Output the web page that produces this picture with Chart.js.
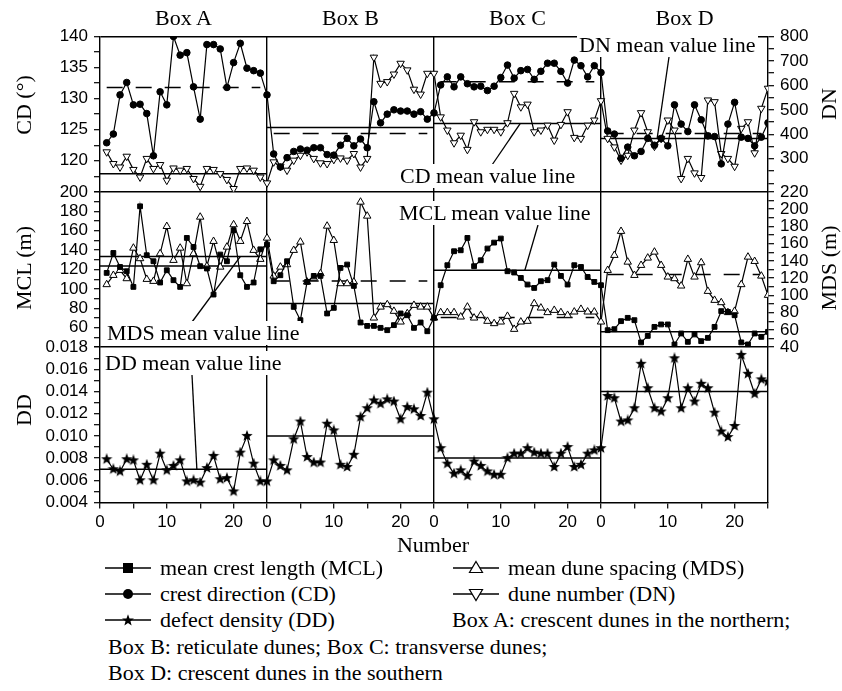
<!DOCTYPE html>
<html>
<head>
<meta charset="utf-8">
<title>Dune parameters in four boxes</title>
<script src="https://cdn.jsdelivr.net/npm/chart.js@4.4.1/dist/chart.umd.min.js"></script>
<style>
  html, body { margin: 0; padding: 0; background: #fff; }
  #page { position: relative; width: 842px; height: 691px; overflow: hidden;
          font-family: "Liberation Serif", "Times New Roman", serif; color: #000; }
  #chart { position: absolute; left: 0; top: 0; }
  #leaders { position: absolute; left: 0; top: 0; }
  .lbl { position: absolute; font-size: 22px; line-height: 24px; white-space: nowrap; }
  .note { background: #fff; padding: 0 2px; }
  .rot { transform: translate(-50%, -50%) rotate(-90deg); }
  .ctr { transform: translate(-50%, -50%); }
  .row { position: absolute; font-size: 22px; line-height: 24px; white-space: nowrap;
         display: flex; align-items: center; }
  .row svg { margin-right: 8px; }
</style>
</head>
<body>
<div id="page">
  <canvas id="chart" width="842" height="560"></canvas>
  <svg id="leaders" width="842" height="560"></svg>
  <div id="labels"></div>
  <div id="legend"></div>
</div>
<script>
// 25 samples per box, boxes A..D one after the other
const boxNames = ['Box A', 'Box B', 'Box C', 'Box D'];
const boxText = ['crescent dunes in the northern', 'reticulate dunes', 'transverse dunes', 'crescent dunes in the southern'];
const perBox = 25;

// crest direction (deg)
const cd = [
  122.9, 124.3, 130.6, 132.6, 129.0, 129.1, 127.6, 120.8, 131.1, 129.0, 140.0, 137.0, 137.4, 131.9, 126.7, 138.7, 138.7, 138.0, 131.8, 135.8, 138.9, 134.9, 134.5, 134.1, 130.6,
  121.1, 119.0, 120.5, 121.5, 121.9, 121.7, 122.1, 122.1, 121.0, 120.9, 122.5, 123.6, 122.4, 123.5, 122.1, 129.5, 126.1, 127.5, 128.2, 128.0, 128.0, 127.5, 127.9, 126.7, 127.7,
  132.2, 133.5, 131.9, 133.5, 132.4, 131.9, 132.0, 131.3, 132.0, 133.4, 135.4, 133.3, 134.5, 134.7, 133.1, 134.4, 135.7, 135.7, 134.4, 132.5, 136.2, 135.3, 133.5, 135.3, 134.2,
  124.8, 124.3, 120.4, 122.2, 120.8, 121.5, 123.6, 122.5, 123.6, 122.4, 129.0, 125.9, 124.7, 129.0, 126.6, 124.0, 123.9, 119.5, 125.9, 129.4, 123.8, 123.6, 122.4, 123.8, 126.1
];
// dune number
const dn = [
  328, 280, 266, 310, 256, 225, 301, 260, 276, 212, 262, 253, 260, 219, 187, 260, 256, 239, 215, 178, 260, 262, 253, 225, 201,
  287, 269, 253, 294, 314, 328, 301, 283, 280, 297, 303, 294, 321, 266, 301, 715, 608, 615, 646, 690, 663, 584, 564, 649, 649,
  471, 417, 365, 396, 338, 451, 410, 420, 420, 410, 447, 567, 512, 523, 410, 417, 437, 376, 440, 492, 387, 383, 437, 458, 537,
  383, 348, 294, 314, 417, 488, 410, 351, 383, 458, 417, 219, 301, 242, 223, 540, 533, 321, 301, 269, 424, 451, 324, 506, 588
];
// mean crest length (m)
const mcl = [
  116.5, 137.0, 122.6, 118.2, 102.1, 185.1, 134.7, 128.5, 106.6, 119.2, 109.0, 102.1, 152.5, 143.2, 123.4, 121.0, 94.2, 135.4, 128.5, 160.4, 114.1, 102.1, 106.6, 140.8, 145.7,
  107.9, 114.1, 128.5, 81.5, 67.8, 107.2, 113.4, 113.4, 74.7, 80.5, 121.6, 125.1, 103.1, 65.4, 61.9, 61.9, 59.9, 57.5, 62.7, 74.7, 72.9, 59.9, 65.4, 56.4, 70.2,
  103.8, 124.4, 138.8, 139.8, 152.5, 123.4, 129.5, 141.6, 147.7, 151.9, 118.2, 116.9, 111.3, 104.5, 101.0, 107.9, 109.0, 125.1, 113.4, 104.5, 124.4, 122.6, 112.3, 107.2, 103.8,
  57.5, 58.5, 66.8, 70.2, 67.8, 44.9, 51.6, 60.9, 63.4, 63.4, 42.8, 54.1, 45.5, 53.1, 46.2, 49.6, 60.9, 77.1, 76.3, 72.9, 44.9, 42.8, 54.1, 50.6, 55.8
];
// mean dune spacing (m)
const mds = [
  112.6, 123.3, 129.1, 119.5, 154.9, 142.7, 118.7, 116.4, 148.4, 180.0, 140.7, 154.9, 113.7, 148.4, 190.8, 133.8, 162.7, 132.9, 156.1, 182.0, 162.7, 185.8, 152.3, 141.9, 166.5,
  122.5, 132.9, 135.7, 152.3, 161.9, 115.6, 120.2, 125.3, 180.4, 163.8, 113.7, 113.7, 115.6, 208.2, 192.0, 73.9, 86.6, 89.4, 81.7, 69.3, 79.0, 88.6, 86.6, 86.6, 73.9,
  80.2, 80.2, 80.2, 75.1, 86.6, 73.9, 77.0, 70.1, 67.4, 69.3, 75.9, 60.8, 69.3, 70.1, 90.6, 85.5, 80.2, 82.8, 80.2, 77.0, 80.9, 84.0, 80.9, 80.9, 69.3,
  129.1, 146.5, 174.3, 138.7, 123.3, 134.9, 143.4, 150.3, 134.9, 121.4, 119.5, 111.0, 141.9, 121.4, 138.0, 104.8, 94.4, 91.7, 80.2, 81.7, 112.6, 144.5, 139.5, 122.5, 100.2
];
// defect density
const dd = [
  0.0079, 0.0070, 0.0068, 0.0079, 0.0078, 0.0060, 0.0074, 0.0060, 0.0084, 0.0069, 0.0073, 0.0078, 0.0059, 0.0060, 0.0058, 0.0071, 0.0082, 0.0061, 0.0062, 0.0050, 0.0085, 0.0100, 0.0075, 0.0059, 0.0059,
  0.0078, 0.0073, 0.0069, 0.0097, 0.0113, 0.0081, 0.0076, 0.0076, 0.0111, 0.0105, 0.0074, 0.0072, 0.0083, 0.0117, 0.0125, 0.0132, 0.0129, 0.0133, 0.0131, 0.0115, 0.0126, 0.0124, 0.0118, 0.0139, 0.0115,
  0.0089, 0.0075, 0.0066, 0.0069, 0.0064, 0.0077, 0.0073, 0.0068, 0.0065, 0.0065, 0.0080, 0.0084, 0.0084, 0.0089, 0.0085, 0.0084, 0.0084, 0.0072, 0.0084, 0.0090, 0.0072, 0.0074, 0.0084, 0.0087, 0.0089,
  0.0136, 0.0134, 0.0113, 0.0114, 0.0125, 0.0165, 0.0143, 0.0125, 0.0122, 0.0134, 0.0170, 0.0125, 0.0143, 0.0131, 0.0147, 0.0143, 0.0121, 0.0104, 0.0099, 0.0109, 0.0173, 0.0156, 0.0138, 0.0151, 0.0149
];

// mean value line of each box
const cdMean = [131.8, 124.4, 132.7, 124.4];
const dnMean = [239, 428, 444, 383];
const mclMean = [123.6, 85, 119.2, 55.8];
const mdsMean = [145, 116.7, 74.4, 124.1];
const ddMean = [0.007, 0.010, 0.008, 0.014];

// tick labels
const cdTicks = [120, 125, 130, 135, 140];
const dnTicks = [300, 400, 500, 600, 700, 800];
const mclTicks = [60, 80, 100, 120, 140, 160, 180, 200];
const mdsTicks = [40, 60, 80, 100, 120, 140, 160, 180, 200, 220];
const ddTicks = [0.004, 0.006, 0.008, 0.010, 0.012, 0.014, 0.016, 0.018];
const xTicks = [0, 10, 20];

// which mean lines are dashed (style only)
const cdDash = [true, true, true, true];
const dnDash = [false, false, false, false];
const mclDash = [false, false, false, false];
const mdsDash = [false, true, true, true];
const ddDash = [false, false, false, false];

const BLACK = '#000';
const CLEAR = 'rgba(0,0,0,0)';
const LEFT_W = 100, RIGHT_W = 74, TOP_PAD = 36.5, X_H = 57.5;
const tickFont = { family: '"Liberation Sans", Arial, sans-serif', size: 17 };

function pts(arr) {
  return arr.map((v, i) => ({ x: i + 1, y: v }));
}

// labelled ticks plus the unlabelled end tick and half-way minor ticks
function withMinor(lo, labelled) {
  const step = labelled[1] - labelled[0];
  const major = labelled[0] > lo ? [labelled[0] - step].concat(labelled) : labelled.slice();
  const out = [];
  major.forEach((v, i) => {
    if (i > 0) out.push((major[i - 1] + v) / 2);
    out.push(v);
  });
  return out;
}

function yScale(pos, order, min, max, labelled, fmt) {
  const values = withMinor(min, labelled);
  return {
    type: 'linear', position: pos, stack: pos, stackWeight: 1, weight: order,
    min: min, max: max,
    afterBuildTicks: s => { s.ticks = values.map(v => ({ value: v })); },
    afterFit: s => { s.width = pos === 'left' ? LEFT_W : RIGHT_W; },
    ticks: {
      autoSkip: false, color: BLACK, font: tickFont, padding: 6,
      callback: v => labelled.includes(v) ? fmt(v) : ''
    },
    grid: {
      drawOnChartArea: pos === 'left',
      color: ctx => (ctx.tick && ctx.tick.value === max) ? BLACK : CLEAR,
      lineWidth: 1.4, tickColor: BLACK, tickLength: 6, tickWidth: 1.2
    },
    border: { display: true, color: BLACK, width: 1.4 }
  };
}

function starMarker(size) {
  const c = document.createElement('canvas');
  c.width = size; c.height = size;
  const g = c.getContext('2d');
  const R = size / 2, r = R * 0.42;
  g.beginPath();
  for (let k = 0; k < 10; k++) {
    const a = -Math.PI / 2 + k * Math.PI / 5;
    const rr = k % 2 ? r : R;
    g.lineTo(R + rr * Math.cos(a), R + rr * Math.sin(a));
  }
  g.closePath();
  g.fillStyle = BLACK;
  g.fill();
  return c;
}

function meanLines(means, axis, dashed) {
  return means.map((m, b) => ({
    data: [
      { x: b * perBox + (dashed[b] ? 1 : 0), y: m },
      { x: b * perBox + (dashed[b] ? perBox - 1 : perBox), y: m }
    ],
    yAxisID: axis,
    borderColor: BLACK, borderWidth: 1.5,
    borderDash: dashed[b] ? [16, 13] : [],
    pointRadius: 0, fill: false
  }));
}

const line = { borderColor: BLACK, borderWidth: 1.2, tension: 0, fill: false,
               pointBorderColor: BLACK, pointBorderWidth: 1 };

const datasets = [
  Object.assign({}, line, { label: 'crest direction (CD)', data: pts(cd), yAxisID: 'yCD',
    pointStyle: 'circle', pointRadius: 3.3, pointBackgroundColor: BLACK }),
  Object.assign({}, line, { label: 'mean crest length (MCL)', data: pts(mcl), yAxisID: 'yMCL',
    pointStyle: 'rect', pointRadius: 3.4, pointBackgroundColor: BLACK }),
  Object.assign({}, line, { label: 'defect density (DD)', data: pts(dd), yAxisID: 'yDD',
    pointStyle: starMarker(12), pointRadius: 5 }),
  Object.assign({}, line, { label: 'dune number (DN)', data: pts(dn), yAxisID: 'yDN',
    pointStyle: 'triangle', pointRotation: 180, pointRadius: 4.3, pointBackgroundColor: '#fff' }),
  Object.assign({}, line, { label: 'mean dune spacing (MDS)', data: pts(mds), yAxisID: 'yMDS',
    pointStyle: 'triangle', pointRadius: 4.3, pointBackgroundColor: '#fff' })
].concat(
  meanLines(cdMean, 'yCD', cdDash),
  meanLines(dnMean, 'yDN', dnDash),
  meanLines(mclMean, 'yMCL', mclDash),
  meanLines(mdsMean, 'yMDS', mdsDash),
  meanLines(ddMean, 'yDD', ddDash)
);

const boxEdges = boxNames.map((_, i) => i * perBox).filter(v => v > 0);
const xTickValues = [];
for (let v = 0; v <= boxNames.length * perBox; v += 5) xTickValues.push(v);

const chart = new Chart(document.getElementById('chart'), {
  type: 'line',
  data: { datasets: datasets },
  options: {
    responsive: false,
    animation: false,
    devicePixelRatio: 1,
    layout: { padding: { top: TOP_PAD, left: 0, right: 0, bottom: 0 } },
    plugins: { legend: { display: false }, tooltip: { enabled: false } },
    scales: {
      x: {
        type: 'linear', position: 'bottom', min: 0, max: boxNames.length * perBox,
        afterBuildTicks: s => { s.ticks = xTickValues.map(v => ({ value: v })); },
        afterFit: s => { s.height = X_H; },
        ticks: {
          autoSkip: false, maxRotation: 0, color: BLACK, font: tickFont, padding: 4,
          callback: v => {
            if (v >= boxNames.length * perBox) return '';
            const inBox = v % perBox;
            return xTicks.includes(inBox) ? String(inBox) : '';
          }
        },
        grid: {
          color: ctx => (ctx.tick && boxEdges.includes(ctx.tick.value)) ? BLACK : CLEAR,
          lineWidth: 1.4, tickColor: BLACK, tickLength: 6, tickWidth: 1.2
        },
        border: { display: true, color: BLACK, width: 1.4 }
      },
      yCD: yScale('left', 3, 115, 140, cdTicks, v => String(v)),
      yMCL: yScale('left', 2, 40, 200, mclTicks, v => String(v)),
      yDD: yScale('left', 1, 0.004, 0.018, ddTicks, v => v.toFixed(3)),
      yDN: yScale('right', 1, 165, 800, dnTicks, v => String(v)),
      yMDS: yScale('right', 2, 40, 220, mdsTicks, v => String(v)),
      yR3: {
        type: 'linear', position: 'right', stack: 'right', stackWeight: 1, weight: 3,
        min: 0, max: 1,
        afterFit: s => { s.width = RIGHT_W; },
        ticks: { display: false },
        grid: { display: false },
        border: { display: true, color: BLACK, width: 1.4 }
      }
    }
  }
});

// text around the plot
const labels = document.getElementById('labels');
function addText(text, x, y, cls) {
  const d = document.createElement('div');
  d.className = 'lbl ' + cls;
  d.textContent = text;
  d.style.left = x + 'px';
  d.style.top = y + 'px';
  labels.appendChild(d);
  return d;
}

const xs = chart.scales.x;
boxNames.forEach((name, i) => addText(name, xs.getPixelForValue(i * perBox + perBox / 2), 18, 'ctr'));

addText('CD (°)', 24, 105, 'rot');
addText('MCL (m)', 24, 268, 'rot');
addText('DD', 24, 410, 'rot');
addText('DN', 829, 104, 'rot');
addText('MDS (m)', 829, 268, 'rot');
addText('Number', 433, 545, 'ctr');

// mean value line call-outs
const notes = [
  { text: 'DN mean value line', x: 577, y: 45, from: [669, 57], tipX: 83.4, axis: 'yDN', value: dnMean[3] },
  { text: 'CD mean value line', x: 398, y: 176, from: [492, 165], tipX: 62.9, axis: 'yDN', value: dnMean[2] },
  { text: 'MCL mean value line', x: 397, y: 213, from: [538, 225], tipX: 63.6, axis: 'yMCL', value: mclMean[2] },
  { text: 'MDS mean value line', x: 105, y: 333, from: [192, 322], tipX: 21, axis: 'yMDS', value: mdsMean[0] },
  { text: 'DD mean value line', x: 103, y: 363, from: [192, 375], tipX: 14.5, axis: 'yDD', value: ddMean[0] }
];
const svgNS = 'http://www.w3.org/2000/svg';
const leaders = document.getElementById('leaders');
notes.forEach(n => {
  const l = document.createElementNS(svgNS, 'line');
  l.setAttribute('x1', n.from[0]);
  l.setAttribute('y1', n.from[1]);
  l.setAttribute('x2', xs.getPixelForValue(n.tipX));
  l.setAttribute('y2', chart.scales[n.axis].getPixelForValue(n.value));
  l.setAttribute('stroke', BLACK);
  l.setAttribute('stroke-width', '1.3');
  leaders.appendChild(l);
  addText(n.text, n.x, n.y - 12, 'note');
});

// legend
function symbol(shape) {
  let mark = '';
  if (shape === 'rect') mark = '<rect x="19" y="5" width="10" height="10" fill="#000"/>';
  if (shape === 'circle') mark = '<circle cx="24" cy="10" r="5" fill="#000"/>';
  if (shape === 'up') mark = '<polygon points="24,3.5 30.5,14.5 17.5,14.5" fill="#fff" stroke="#000" stroke-width="1.2"/>';
  if (shape === 'down') mark = '<polygon points="17.5,5.5 30.5,5.5 24,16.5" fill="#fff" stroke="#000" stroke-width="1.2"/>';
  if (shape === 'star') {
    const p = [];
    for (let k = 0; k < 10; k++) {
      const a = -Math.PI / 2 + k * Math.PI / 5;
      const rr = k % 2 ? 2.6 : 6.2;
      p.push((24 + rr * Math.cos(a)).toFixed(2) + ',' + (10.5 + rr * Math.sin(a)).toFixed(2));
    }
    mark = '<polygon points="' + p.join(' ') + '" fill="#000"/>';
  }
  return '<svg width="48" height="20"><line x1="1" y1="10" x2="47" y2="10" stroke="#000" stroke-width="1.4"/>' + mark + '</svg>';
}

const legendItems = [
  { label: datasets[1].label, shape: 'rect', x: 104, y: 568 },
  { label: datasets[4].label, shape: 'up', x: 452, y: 568 },
  { label: datasets[0].label, shape: 'circle', x: 104, y: 594 },
  { label: datasets[3].label, shape: 'down', x: 452, y: 594 },
  { label: datasets[2].label, shape: 'star', x: 104, y: 620 }
];
const legend = document.getElementById('legend');
legendItems.forEach(it => {
  const r = document.createElement('div');
  r.className = 'row';
  r.style.left = it.x + 'px';
  r.style.top = (it.y - 12) + 'px';
  r.innerHTML = symbol(it.shape) + '<span>' + it.label + '</span>';
  legend.appendChild(r);
});
const boxLines = [
  { text: boxNames[0] + ': ' + boxText[0] + ';', x: 452, y: 620 },
  { text: boxNames[1] + ': ' + boxText[1] + '; ' + boxNames[2] + ': ' + boxText[2] + ';', x: 108, y: 647 },
  { text: boxNames[3] + ': ' + boxText[3], x: 108, y: 673 }
];
boxLines.forEach(b => {
  const r = document.createElement('div');
  r.className = 'row';
  r.style.left = b.x + 'px';
  r.style.top = (b.y - 12) + 'px';
  r.textContent = b.text;
  legend.appendChild(r);
});
</script>
</body>
</html>
